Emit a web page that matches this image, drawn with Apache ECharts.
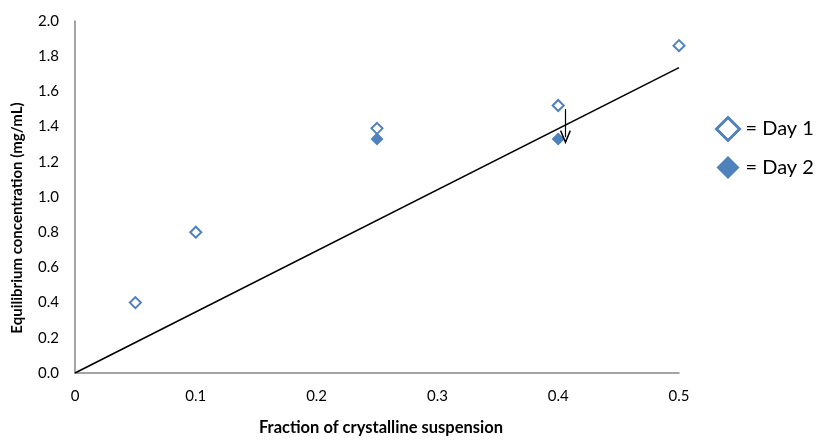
<!DOCTYPE html>
<html>
<head>
<meta charset="utf-8">
<script src="https://cdn.jsdelivr.net/npm/echarts@6/dist/echarts.min.js"></script>
<style>
  html, body { margin: 0; padding: 0; background: #fff; }
  #chart { width: 817px; height: 441px; }
</style>
</head>
<body>
<div id="chart"></div>
<script>
// Measured equilibrium concentrations (mg/mL) against crystalline fraction
const day1X = [0.05, 0.10, 0.25, 0.40, 0.50];
const day1Y = [0.40, 0.80, 1.39, 1.52, 1.86];
const day2X = [0.25, 0.40];
const day2Y = [1.33, 1.33];
// Reference line through the origin
const refLineX = [0, 0.5];
const refLineY = [0, 1.735];
// Annotation arrow marking the Day 1 -> Day 2 drop
const arrowX = [0.406, 0.406];
const arrowY = [1.50, 1.34];
// Axis ticks
const xTicks = [0, 0.1, 0.2, 0.3, 0.4, 0.5];
const yTicks = [0, 0.2, 0.4, 0.6, 0.8, 1.0, 1.2, 1.4, 1.6, 1.8, 2.0];

const blue = '#4f81bd';
const font = 'Lato, "Open Sans", sans-serif';

const zip = (xs, ys) => xs.map((x, i) => [x, ys[i]]);

const chart = echarts.init(document.getElementById('chart'), null, { renderer: 'canvas' });

// open chevron arrow head, tip up so markLine can rotate it
const chevron = 'path://M5,0 L10,9 L8.8,9.6 L5,2.6 L1.2,9.6 L0,9 Z';

chart.setOption({
  animation: false,
  backgroundColor: '#fff',
  grid: { left: 75, right: 138, top: 21, bottom: 58, containLabel: false },
  legend: {
    orient: 'vertical',
    left: 710,
    top: 111,
    itemWidth: 23,
    itemHeight: 23,
    itemGap: 14,
    data: [
      { name: 'Day 1', icon: 'diamond', itemStyle: { color: '#fff', borderColor: blue, borderWidth: 3, opacity: 1 } },
      { name: 'Day 2', icon: 'diamond', itemStyle: { color: blue, borderWidth: 0, opacity: 1 } }
    ],
    formatter: name => '= ' + name,
    textStyle: { fontFamily: font, fontSize: 20, color: '#000', padding: [0, 0, 0, 1] }
  },
  xAxis: {
    type: 'value',
    min: xTicks[0],
    max: xTicks[xTicks.length - 1],
    interval: 0.1,
    name: 'Fraction of crystalline suspension',
    nameLocation: 'middle',
    nameGap: 46,
    nameTextStyle: { fontFamily: font, fontSize: 16.5, fontWeight: 'bold', color: '#000', padding: [0, 0, 0, 8] },
    axisLine: { show: true, lineStyle: { color: '#868686', width: 1.5 } },
    axisTick: { show: false },
    splitLine: { show: false },
    axisLabel: {
      fontFamily: font, fontSize: 15, color: '#000', margin: 16,
      formatter: v => (v === 0 ? '0' : v.toFixed(1))
    }
  },
  yAxis: {
    type: 'value',
    min: yTicks[0],
    max: yTicks[yTicks.length - 1],
    interval: 0.2,
    name: 'Equilibrium concentration (mg/mL)',
    nameLocation: 'middle',
    nameGap: 50,
    nameTextStyle: { fontFamily: font, fontSize: 15, fontWeight: 'bold', color: '#000', padding: [0, 0, 0, -42] },
    axisLine: { show: true, lineStyle: { color: '#868686', width: 1.5 } },
    axisTick: { show: false },
    splitLine: { show: false },
    axisLabel: {
      fontFamily: font, fontSize: 15, color: '#000', margin: 16,
      formatter: v => v.toFixed(1)
    }
  },
  series: [
    {
      name: 'Reference',
      type: 'line',
      data: zip(refLineX, refLineY),
      showSymbol: false,
      lineStyle: { color: '#000', width: 1.6 },
      silent: true,
      z: 2,
      markLine: {
        silent: true,
        symbol: ['none', chevron],
        symbolSize: [11, 14],
        label: { show: false },
        lineStyle: { color: '#000', width: 1.2, type: 'solid' },
        data: [[
          { coord: [arrowX[0], arrowY[0]] },
          { coord: [arrowX[1], arrowY[1]] }
        ]]
      }
    },
    {
      name: 'Day 1',
      type: 'scatter',
      data: zip(day1X, day1Y),
      symbol: 'diamond',
      symbolSize: 11,
      itemStyle: { color: '#fff', borderColor: blue, borderWidth: 2, opacity: 1 },
      z: 4
    },
    {
      name: 'Day 2',
      type: 'scatter',
      data: zip(day2X, day2Y),
      symbol: 'diamond',
      symbolSize: 13,
      itemStyle: { color: blue, opacity: 1 },
      z: 3
    }
  ]
});
</script>
</body>
</html>
